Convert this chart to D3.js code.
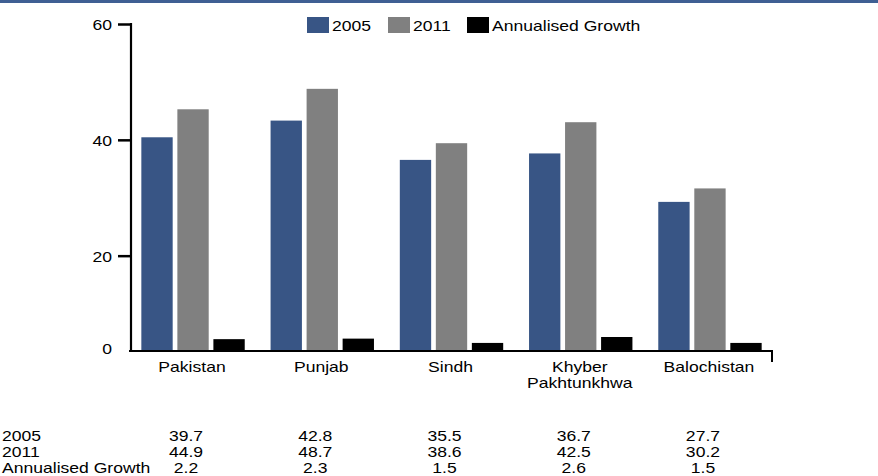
<!DOCTYPE html>
<html>
<head>
<meta charset="utf-8">
<script src="https://cdn.jsdelivr.net/npm/d3@7"></script>
<style>
  body { margin: 0; background: #fff; }
  text { font-family: "Liberation Sans", Arial, sans-serif; font-size: 15px; fill: #000; }
</style>
</head>
<body>
<svg id="chart" width="878" height="476"></svg>
<script>
const regions = ["Pakistan", "Punjab", "Sindh", "Khyber Pakhtunkhwa", "Balochistan"];
const regionLines = [["Pakistan"], ["Punjab"], ["Sindh"], ["Khyber", "Pakhtunkhwa"], ["Balochistan"]];
const series = ["2005", "2011", "Annualised Growth"];
const values2005 = [39.7, 42.8, 35.5, 36.7, 27.7];
const values2011 = [44.9, 48.7, 38.6, 42.5, 30.2];
const growth = [2.2, 2.3, 1.5, 2.6, 1.5];
const yTicks = [20, 40, 60];
const colors = ["#385585", "#808080", "#000000"];

const svg = d3.select("#chart");
const left = 131, right = 772, base = 351;
const stretch = 1.17;

svg.append("rect").attr("x", 0).attr("y", 0).attr("width", 878).attr("height", 3).attr("fill", "#3f5f93");

const x = d3.scaleBand().domain(regions).range([left, right]).paddingInner(0.2).paddingOuter(0.08);
const xs = d3.scaleBand().domain(series).range([0, x.bandwidth()]).paddingInner(0.13);
const y = d3.scaleLinear().domain([0, 60]).range([base, 28]);
// tick labels sit on their own scale in the source picture
const yAxisScale = d3.scaleLinear().domain([0, 60]).range([371.5, 24]);

const rows = regions.map((r, i) => ({ region: r, vals: [values2005[i], values2011[i], growth[i]] }));

const groups = svg.selectAll("g.grp").data(rows).join("g")
    .attr("class", "grp")
    .attr("transform", d => `translate(${x(d.region)},0)`);
groups.selectAll("rect").data(d => d.vals.map((v, j) => ({ s: series[j], v, j }))).join("rect")
    .attr("x", d => xs(d.s))
    .attr("y", d => y(d.v))
    .attr("width", xs.bandwidth())
    .attr("height", d => base - y(d.v))
    .attr("fill", d => colors[d.j]);

// y axis
const yAxis = svg.append("g").attr("transform", `translate(${left},0)`)
    .call(d3.axisLeft(yAxisScale).tickValues(yTicks).tickSize(13).tickPadding(6));
yAxis.select(".domain").remove();
yAxis.selectAll(".tick line").attr("stroke", "#000").attr("stroke-width", 2.5);
yAxis.selectAll(".tick text").attr("font-size", null).attr("font-family", null).attr("dy", "0.36em");
svg.append("line").attr("x1", left).attr("x2", left).attr("y1", yAxisScale(60) - 1).attr("y2", base)
    .attr("stroke", "#000").attr("stroke-width", 2.2);
svg.append("text").attr("x", left - 19).attr("y", base - 2).attr("dy", "0.36em").attr("text-anchor", "end").text("0");

// x axis
svg.append("line").attr("x1", left - 2).attr("x2", right + 1).attr("y1", base).attr("y2", base)
    .attr("stroke", "#000").attr("stroke-width", 2.2);
svg.append("line").attr("x1", right).attr("x2", right).attr("y1", base).attr("y2", base + 11)
    .attr("stroke", "#000").attr("stroke-width", 2);

const cx = r => x(r) + x.bandwidth() / 2 - 1;
regionLines.forEach((lines, i) => {
    lines.forEach((t, k) => {
        svg.append("text").attr("x", cx(regions[i])).attr("y", 372 + k * 16)
            .attr("text-anchor", "middle").text(t);
    });
});

// data table
const tableRows = [values2005, values2011, growth];
tableRows.forEach((vals, r) => {
    const ty = 441 + r * 16;
    const lab = svg.append("text").attr("x", 2).attr("y", ty).text(series[r]);
    const labEnd = 2 + lab.node().getComputedTextLength() * stretch;
    vals.forEach((v, i) => {
        const t = svg.append("text").attr("y", ty).attr("text-anchor", "middle").text(d3.format(".1f")(v));
        const half = t.node().getComputedTextLength() * stretch / 2;
        t.attr("x", Math.max(cx(regions[i]) - 6, labEnd + 9 + half));
    });
});

// legend
const legendX = [307, 388, 467];
series.forEach((s, i) => {
    const g = svg.append("g").attr("transform", `translate(${legendX[i]},17)`);
    g.append("rect").attr("width", 22).attr("height", 16).attr("fill", colors[i]);
    g.append("text").attr("x", 25).attr("y", 14).text(s);
});

// the source text is drawn a little wide
svg.selectAll("text").each(function () {
    const w = this.getComputedTextLength();
    d3.select(this).attr("textLength", w * stretch).attr("lengthAdjust", "spacingAndGlyphs");
});
</script>
</body>
</html>
